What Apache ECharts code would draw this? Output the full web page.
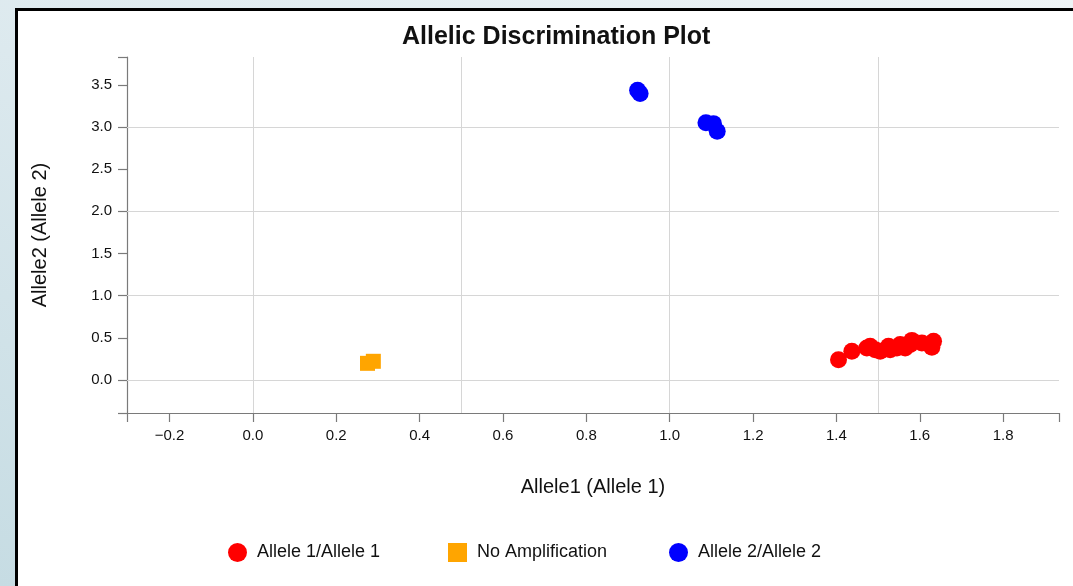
<!DOCTYPE html>
<html>
<head>
<meta charset="utf-8">
<script src="https://cdn.jsdelivr.net/npm/echarts@6/dist/echarts.min.js"></script>
<style>
  html, body { margin: 0; padding: 0; width: 1073px; height: 586px; overflow: hidden; }
  body { background: linear-gradient(200deg, #eef4f6 0%, #dce9ee 45%, #c6dce3 100%); position: relative; }
  #frame { position: absolute; left: 15px; top: 8px; width: 1100px; height: 620px; background: #ffffff; border: 3px solid #000; box-sizing: border-box; }
  #chart { position: absolute; left: 0; top: 0; width: 1073px; height: 586px; }
</style>
</head>
<body>
<div id="frame"></div>
<div id="chart"></div>
<script>
// ---- data ----
const seriesNames = ['Allele 1/Allele 1', 'No Amplification', 'Allele 2/Allele 2'];
const allele11 = [
  [1.405, 0.24], [1.437, 0.34], [1.473, 0.38], [1.481, 0.40], [1.493, 0.36],
  [1.505, 0.34], [1.525, 0.40], [1.529, 0.36], [1.545, 0.38], [1.553, 0.42],
  [1.565, 0.38], [1.577, 0.42], [1.581, 0.47], [1.605, 0.44], [1.629, 0.39],
  [1.633, 0.46]
];
const noAmp = [[0.275, 0.198], [0.289, 0.222]];
const allele22 = [[0.923, 3.436], [0.929, 3.397], [1.087, 3.05], [1.105, 3.04], [1.114, 2.95]];
const xTickLabels = [-0.2, 0.0, 0.2, 0.4, 0.6, 0.8, 1.0, 1.2, 1.4, 1.6, 1.8];
const yTickLabels = [0.0, 0.5, 1.0, 1.5, 2.0, 2.5, 3.0, 3.5];
const xGridValues = [0, 0.5, 1.0, 1.5];
const yGridValues = [0, 1, 2, 3];
const xDomain = [-0.302, 1.934];
const yDomain = [-0.391, 3.83];

const FONT = 'Liberation Sans, Arial, Helvetica, sans-serif';
const fmt = v => Number(v).toFixed(1).replace('-', '\u2212');

const chart = echarts.init(document.getElementById('chart'), null, { renderer: 'canvas' });

const gridLines = xGridValues.map(v => ({ xAxis: v })).concat(yGridValues.map(v => ({ yAxis: v })));

const legendBase = {
  orient: 'horizontal', top: 543, padding: 0, itemWidth: 19, itemHeight: 19,
  textStyle: { fontFamily: FONT, fontSize: 18, color: '#111', padding: [0, 0, 0, 5] },
  selectedMode: false
};

chart.setOption({
  backgroundColor: 'transparent',
  animation: false,
  title: {
    text: 'Allelic Discrimination Plot',
    left: 397, top: 20,
    textStyle: { fontFamily: FONT, fontSize: 25, fontWeight: 'bold', color: '#111' }
  },
  legend: [
    Object.assign({}, legendBase, { left: 228, data: [{ name: seriesNames[0], icon: 'circle' }] }),
    Object.assign({}, legendBase, { left: 448, data: [{ name: seriesNames[1], icon: 'rect' }] }),
    Object.assign({}, legendBase, { left: 669, data: [{ name: seriesNames[2], icon: 'circle' }] })
  ],
  grid: { left: 127, right: 14, top: 57, bottom: 173, containLabel: false },
  xAxis: {
    type: 'value', min: xDomain[0], max: xDomain[1],
    name: 'Allele1 (Allele 1)', nameLocation: 'middle', nameGap: 64,
    nameTextStyle: { fontFamily: FONT, fontSize: 20, color: '#111' },
    axisLine: { show: true, onZero: false, lineStyle: { color: '#7a7a7a', width: 1.2 } },
    axisTick: { show: true, length: 9, inside: false, lineStyle: { color: '#7a7a7a', width: 1.2 },
      customValues: [xDomain[0]].concat(xTickLabels, [xDomain[1]]) },
    axisLabel: { customValues: xTickLabels, formatter: fmt, margin: 15,
      fontFamily: FONT, fontSize: 15, color: '#111' },
    splitLine: { show: false }
  },
  yAxis: {
    type: 'value', min: yDomain[0], max: yDomain[1],
    name: 'Allele2 (Allele 2)', nameLocation: 'middle', nameGap: 77,
    nameTextStyle: { fontFamily: FONT, fontSize: 20, color: '#111' },
    axisLine: { show: true, onZero: false, lineStyle: { color: '#7a7a7a', width: 1.2 } },
    axisTick: { show: true, length: 9, inside: false, lineStyle: { color: '#7a7a7a', width: 1.2 },
      customValues: [yDomain[0]].concat(yTickLabels, [yDomain[1]]) },
    axisLabel: { customValues: yTickLabels, formatter: fmt, margin: 15,
      fontFamily: FONT, fontSize: 15, color: '#111' },
    splitLine: { show: false }
  },
  series: [
    {
      name: seriesNames[0], type: 'scatter', data: allele11, symbol: 'circle', symbolSize: 17,
      itemStyle: { color: '#ff0000', opacity: 1 }, z: 3
    },
    {
      name: seriesNames[1], type: 'scatter', data: noAmp, symbol: 'rect', symbolSize: 15,
      itemStyle: { color: '#ffa500', opacity: 1 }, z: 3,
      markLine: {
        silent: true, z: 1, symbol: ['none', 'none'], label: { show: false },
        lineStyle: { color: '#d6d6d6', width: 1, type: 'solid' },
        emphasis: { disabled: true },
        data: gridLines
      }
    },
    {
      name: seriesNames[2], type: 'scatter', data: allele22, symbol: 'circle', symbolSize: 17,
      itemStyle: { color: '#0000ff', opacity: 1 }, z: 3
    }
  ]
});
</script>
</body>
</html>
